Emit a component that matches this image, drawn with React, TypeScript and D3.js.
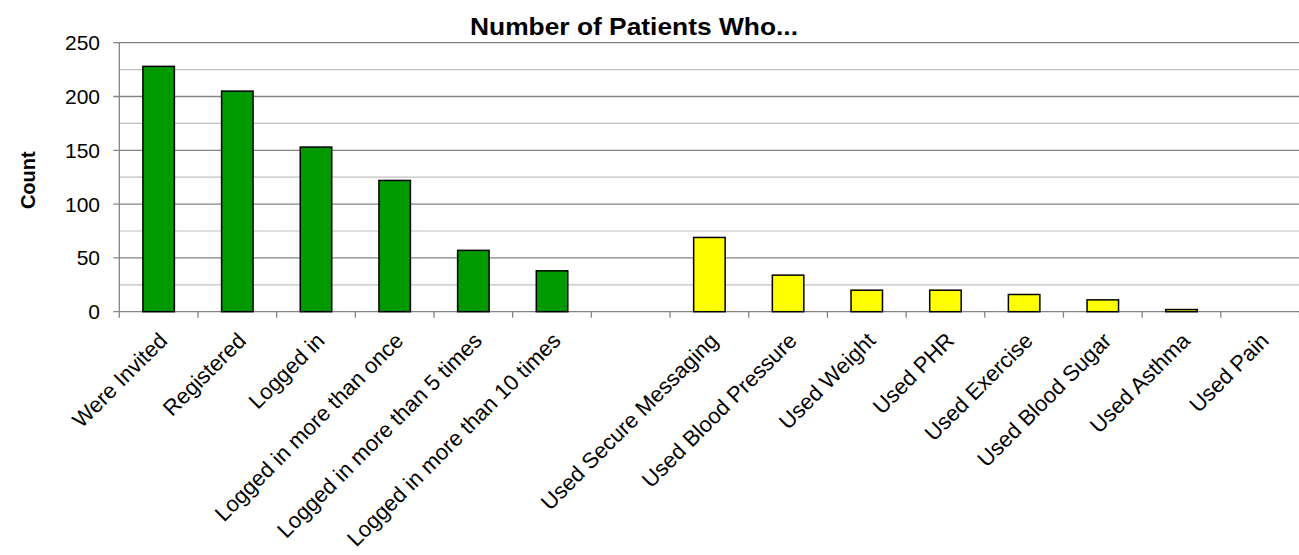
import React from "react";
import * as d3 from "d3";

const categories = [
  "Were Invited",
  "Registered",
  "Logged in",
  "Logged in more than once",
  "Logged in more than 5 times",
  "Logged in more than 10 times",
  "",
  "Used Secure Messaging",
  "Used Blood Pressure",
  "Used Weight",
  "Used PHR",
  "Used Exercise",
  "Used Blood Sugar",
  "Used Asthma",
  "Used Pain",
];
const values: (number | null)[] = [228, 205, 153, 122, 57, 38, null, 69, 34, 20, 20, 16, 11, 2, 0];
const groups = ["g", "g", "g", "g", "g", "g", "", "y", "y", "y", "y", "y", "y", "y", "y"];
const yTicks = [0, 50, 100, 150, 200, 250];
const minorTicks = [25, 75, 125, 175, 225];

const W = 1299;
const H = 555;
const left = 119.3;
const right = 1299.5;
const top = 42.7;
const bottom = 311.7;
const font = "'Liberation Sans', Arial, sans-serif";

export default function App() {
  const x = d3.scaleBand<number>().domain(d3.range(categories.length)).range([left, right]).padding(0);
  const y = d3.scaleLinear().domain([0, 250]).range([bottom, top]);
  const bw = x.bandwidth();
  const barW = bw * 0.4;
  return (
    <svg width={W} height={H} style={{ position: "absolute", left: 0, top: 0, background: "#fff" }}>
      <text x={634} y={35} textAnchor="middle" fontFamily={font} fontWeight="bold" fontSize={24}
        textLength={328} lengthAdjust="spacingAndGlyphs">
        Number of Patients Who...
      </text>
      {minorTicks.map((t) => (
        <line key={"m" + t} x1={left} x2={right} y1={y(t)} y2={y(t)} stroke="#c0c0c0" strokeWidth={1.2} />
      ))}
      {yTicks.map((t) => (
        <g key={"t" + t}>
          <line x1={left - 6} x2={right} y1={y(t)} y2={y(t)} stroke="#858585" strokeWidth={1.3} />
          <text x={100} y={y(t)} dy="0.36em" textAnchor="end" fontFamily={font} fontSize={21}>
            {t}
          </text>
        </g>
      ))}
      <line x1={left} x2={left} y1={top} y2={bottom} stroke="#858585" strokeWidth={1.3} />
      {d3.range(categories.length + 1).map((i) => {
        const xx = left + i * bw;
        return <line key={"xt" + i} x1={xx} x2={xx} y1={bottom} y2={bottom + 6} stroke="#858585" strokeWidth={1.3} />;
      })}
      {values.map((v, i) =>
        v === null || v === 0 ? null : (
          <rect
            key={"b" + i}
            x={(x(i) as number) + (bw - barW) / 2}
            y={y(v)}
            width={barW}
            height={bottom - y(v)}
            fill={groups[i] === "g" ? "#009900" : "#ffff00"}
            stroke="#000"
            strokeWidth={1.5}
          />
        )
      )}
      {categories.map((c, i) => {
        const cx = (x(i) as number) + bw / 2 + 10;
        const cy = 342;
        return (
          <text
            key={"l" + i}
            transform={`translate(${cx},${cy}) rotate(-45)`}
            textAnchor="end"
            fontFamily={font}
            fontSize={22}
          >
            {c}
          </text>
        );
      })}
      <text
        transform={`translate(35,${(top + bottom) / 2 + 3}) rotate(-90)`}
        textAnchor="middle"
        fontFamily={font}
        fontWeight="bold"
        fontSize={20}
      >
        Count
      </text>
    </svg>
  );
}
